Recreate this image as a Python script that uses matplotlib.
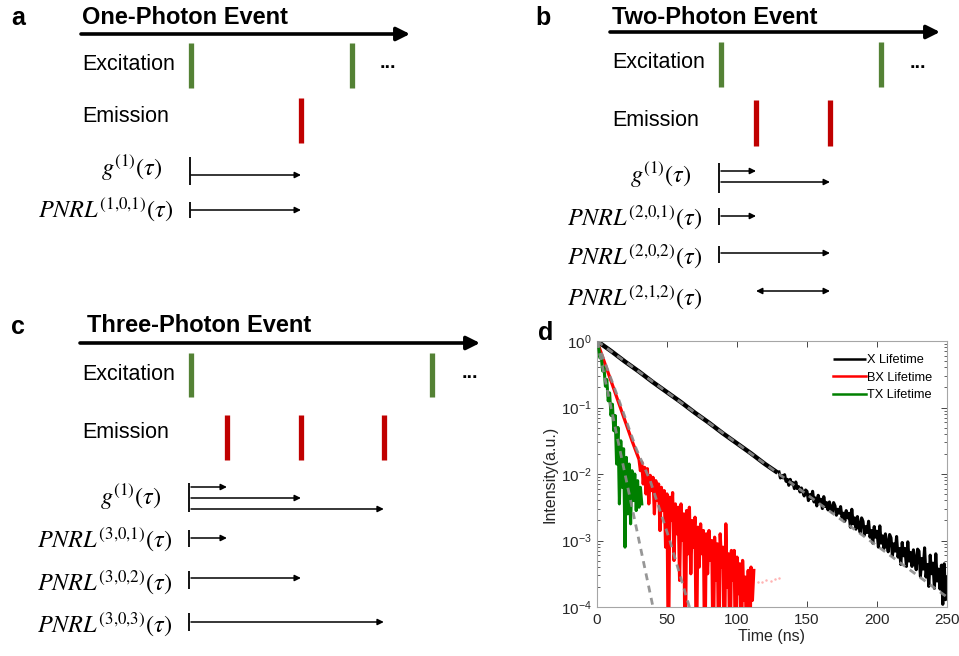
import numpy as np
import matplotlib.pyplot as plt
from matplotlib.ticker import LogLocator, NullLocator, NullFormatter

plt.rcParams["font.family"] = ["Liberation Sans", "DejaVu Sans"]
plt.rcParams["mathtext.fontset"] = "stix"

# ---------------- schematic data (times in units of the laser period) ----------------
excitation_times = [0.0, 1.0]
emission_a = [0.683]
emission_b = [0.219, 0.681]
emission_c = [0.149, 0.456, 0.800]

titles = ["One-Photon Event", "Two-Photon Event", "Three-Photon Event"]
letters = ["a", "b", "c"]

# correlation rows: label, list of (from, to) photon index (0 = excitation, k = k-th emission)
rows_a = [(r"$g^{(1)}(\tau)$", [(0, 1)]),
          (r"$PNRL^{(1{,}0{,}1)}(\tau)$", [(0, 1)])]
rows_b = [(r"$g^{(1)}(\tau)$", [(0, 1), (0, 2)]),
          (r"$PNRL^{(2{,}0{,}1)}(\tau)$", [(0, 1)]),
          (r"$PNRL^{(2{,}0{,}2)}(\tau)$", [(0, 2)]),
          (r"$PNRL^{(2{,}1{,}2)}(\tau)$", [(1, 2)])]
rows_c = [(r"$g^{(1)}(\tau)$", [(0, 1), (0, 2), (0, 3)]),
          (r"$PNRL^{(3{,}0{,}1)}(\tau)$", [(0, 1)]),
          (r"$PNRL^{(3{,}0{,}2)}(\tau)$", [(0, 2)]),
          (r"$PNRL^{(3{,}0{,}3)}(\tau)$", [(0, 3)])]

# ---------------- decay data (log10 of normalised intensity) ----------------
x_t_early = [0, 10, 20, 30, 40, 50, 60, 70, 80, 90, 100, 110, 120, 129]
x_log_early = [0.0, -0.15, -0.31, -0.46, -0.62, -0.77, -0.92, -1.08, -1.23, -1.39,
               -1.54, -1.69, -1.85, -1.98]
x_t_noisy = np.arange(130, 251, 1)
x_log_noisy = [
    -1.97, -2.06, -2.02, -2.06, -2.01, -2.11, -2.08, -2.17, -2.08, -2.15,
    -2.13, -2.22, -2.12, -2.22, -2.19, -2.27, -2.21, -2.27, -2.33, -2.24,
    -2.26, -2.40, -2.31, -2.37, -2.26, -2.42, -2.36, -2.48, -2.32, -2.42,
    -2.38, -2.52, -2.34, -2.49, -2.43, -2.54, -2.42, -2.50, -2.58, -2.43,
    -2.48, -2.62, -2.53, -2.59, -2.49, -2.65, -2.59, -2.71, -2.55, -2.66,
    -2.59, -2.80, -2.53, -2.75, -2.66, -2.83, -2.64, -2.77, -2.88, -2.66,
    -2.71, -2.92, -2.79, -2.88, -2.71, -2.95, -2.85, -3.04, -2.79, -2.95,
    -2.86, -3.10, -2.78, -3.04, -2.93, -3.12, -2.90, -3.04, -3.17, -2.91,
    -2.96, -3.23, -3.05, -3.16, -2.94, -3.25, -3.12, -3.36, -3.03, -3.23,
    -3.12, -3.39, -3.02, -3.31, -3.18, -3.39, -3.14, -3.29, -3.44, -3.13,
    -3.16, -3.54, -3.27, -3.43, -3.11, -3.55, -3.36, -3.69, -3.22, -3.50,
    -3.34, -3.72, -3.20, -3.61, -3.43, -3.73, -3.37, -3.96, -3.35, -3.89,
    -3.55]

bx_t_early = [0, 5, 10, 15, 20, 25, 30]
bx_log_early = [0.0, -0.30, -0.60, -0.90, -1.20, -1.50, -1.78]
bx_t_noisy = np.arange(31, 113, 1)
bx_log_noisy = [-1.95, -1.82, -2.15, -1.90, -2.30, -1.92, -2.45, -2.02, -2.25, -2.05,
                -2.60, -2.10, -2.40, -2.15, -2.85, -2.20, -2.55, -2.25, -3.10, -2.30,
                -5.00, -2.35, -2.70, -2.28, -3.30, -2.45, -2.90, -2.50, -3.60, -2.45,
                -3.00, -2.60, -5.00, -2.55, -3.20, -2.50, -3.50, -2.70, -3.10, -2.65,
                -5.00, -2.80, -3.40, -2.75, -3.20, -2.85, -5.00, -2.90, -3.50, -2.85,
                -3.30, -3.00, -5.00, -2.95, -3.60, -3.05, -5.00, -2.90, -3.40, -3.10,
                -5.00, -2.75, -3.70, -3.20, -5.00, -3.15, -3.60, -3.15, -5.00, -3.25,
                -3.80, -3.35, -5.00, -3.30, -3.90, -3.55, -5.00, -3.45, -5.00, -3.40,
                -3.90, -3.45]
bx_t_tail = [115, 118, 121, 124, 127, 130]
bx_log_tail = [-3.62, -3.63, -3.60, -3.61, -3.58, -3.57]

tx_t = np.arange(0, 33, 1)
tx_log = [0.0, -0.05, -0.25, -0.22, -0.45, -0.40, -0.68, -0.58, -0.90, -0.78,
          -1.12, -0.95, -1.35, -1.12, -1.85, -1.30, -2.45, -1.50, -2.20, -1.62,
          -3.10, -1.75, -2.60, -1.85, -2.75, -1.95, -2.40, -2.00, -2.55, -2.10,
          -2.50, -2.20, -2.45]

# fitted decays (gray dashed)
x_fit_t = [0, 250]
x_fit_log = [0.0, -3.85]
bx_fit_t = [0, 15, 28, 38, 52, 66, 70]
bx_fit_log = [0.0, -0.85, -1.62, -2.10, -3.00, -4.00, -4.30]
tx_fit_t = [0, 41, 43]
tx_fit_log = [0.0, -4.10, -4.30]

# ---------------- figure ----------------
W, H = 959, 656
fig = plt.figure(figsize=(W / 100, H / 100), dpi=100)
canvas = fig.add_axes([0, 0, 1, 1])
canvas.set_xlim(0, W)
canvas.set_ylim(H, 0)
canvas.axis("off")

GREEN = "#548235"
RED = "#c00000"

layouts = [
    dict(letter=(18, 18), title=(82, 18), axis=(81, 410, 34), label_x=82,
         exc_y=(43, 88), exc_text=65, em_y=(98, 143), em_text=117,
         t0=191, period=161, dots=(388, 64), bracket_x=190,
         rows=[dict(ly=168, by=(157, 185), ay=[175]),
               dict(ly=210, by=(202, 218), ay=[210])]),
    dict(letter=(543, 18), title=(612, 17), axis=(610, 940, 32), label_x=612,
         exc_y=(42, 87), exc_text=63, em_y=(100, 146), em_text=120,
         t0=721, period=160, dots=(918, 63), bracket_x=719,
         rows=[dict(ly=175, by=(163, 193), ay=[171, 182]),
               dict(ly=218, by=(208, 225), ay=[216]),
               dict(ly=257, by=(246, 263), ay=[253]),
               dict(ly=298, by=None, ay=[291])]),
    dict(letter=(18, 327), title=(87, 325), axis=(80, 480, 343), label_x=82,
         exc_y=(353, 397), exc_text=375, em_y=(415, 460), em_text=433,
         t0=191, period=241, dots=(470, 374), bracket_x=189,
         rows=[dict(ly=497, by=(483, 512), ay=[487, 498, 509]),
               dict(ly=540, by=(530, 547), ay=[538]),
               dict(ly=583, by=(571, 589), ay=[578]),
               dict(ly=625, by=(613, 631), ay=[622])]),
]

for lay, title, letter, emissions, rows in zip(
        layouts, titles, letters, [emission_a, emission_b, emission_c],
        [rows_a, rows_b, rows_c]):
    canvas.text(*lay["letter"], letter, fontsize=18, fontweight="bold",
                ha="center", va="center")
    canvas.text(*lay["title"], title, fontsize=17, fontweight="bold",
                ha="left", va="center")
    x0, x1, y = lay["axis"]
    canvas.annotate("", xy=(x1, y), xytext=(x0, y),
                    arrowprops=dict(arrowstyle="-|>", lw=2.6, color="black",
                                    mutation_scale=20, shrinkA=0, shrinkB=0))
    canvas.text(lay["label_x"], lay["exc_text"], "Excitation", fontsize=15.5,
                ha="left", va="center")
    canvas.text(lay["label_x"], lay["em_text"], "Emission", fontsize=15.5,
                ha="left", va="center")
    canvas.text(*lay["dots"], "...", fontsize=14, fontweight="bold",
                ha="center", va="center")

    def tx(t, lay=lay):
        return lay["t0"] + t * lay["period"]

    exc_x = [tx(t) for t in excitation_times]
    em_x = [tx(t) for t in emissions]
    canvas.vlines(exc_x, *lay["exc_y"], color=GREEN, lw=3.8)
    canvas.vlines(em_x, *lay["em_y"], color=RED, lw=3.8)

    photon_x = [exc_x[0]] + em_x
    for (label, pairs), rl in zip(rows, lay["rows"]):
        is_g = label.startswith("$g")
        off = 27 if is_g else 17
        canvas.text(lay["bracket_x"] - off, rl["ly"], label, fontsize=17.5,
                    ha="right", va="center")
        if rl["by"] is not None:
            canvas.vlines(lay["bracket_x"], *rl["by"], color="black", lw=1.3)
        for (i, j), ay in zip(pairs, rl["ay"]):
            style = "-|>" if i == 0 else "<|-|>"
            canvas.annotate("", xy=(photon_x[j], ay), xytext=(photon_x[i], ay),
                            arrowprops=dict(arrowstyle=style, lw=1.1, color="black",
                                            mutation_scale=9, shrinkA=0, shrinkB=0))

# ---------------- panel d ----------------
ax = fig.add_axes([597 / W, 1 - 607 / H, 350 / W, 266 / H])
ax.plot(x_t_early, 10 ** np.array(x_log_early), color="black", lw=3.2,
        label="X Lifetime", zorder=2, solid_capstyle="butt")
ax.plot(x_t_noisy, 10 ** np.array(x_log_noisy), color="black", lw=2.2, zorder=2)
ax.plot(np.concatenate([bx_t_early, bx_t_noisy]),
        10 ** np.array(bx_log_early + bx_log_noisy), color="#ff0000", lw=2.3,
        label="BX Lifetime", zorder=3)
ax.scatter(bx_t_tail, 10 ** np.array(bx_log_tail), s=0.6, color="#ffb3b3",
           zorder=3)
ax.plot(tx_t, 10 ** np.array(tx_log), color="#008000", lw=2.2,
        label="TX Lifetime", zorder=4)
for ft, fl in [(x_fit_t, x_fit_log), (bx_fit_t, bx_fit_log), (tx_fit_t, tx_fit_log)]:
    ax.plot(ft, 10 ** np.array(fl), color="#8c8c8c", lw=2.0, ls=(0, (2.5, 2)),
            alpha=0.9, zorder=5)

ax.set_yscale("log")
ax.set_xlim(0, 250)
ax.set_ylim(1e-4, 1)
ax.set_xticks([0, 50, 100, 150, 200, 250])
ax.yaxis.set_major_locator(LogLocator(base=10, numticks=10))
ax.yaxis.set_minor_locator(LogLocator(base=10, subs=np.arange(2, 10), numticks=10))
ax.yaxis.set_minor_formatter(NullFormatter())
ax.xaxis.set_minor_locator(NullLocator())
ax.tick_params(which="both", direction="in", top=True, right=True,
               colors="#262626", labelsize=11, pad=4)
ax.tick_params(which="major", length=4, width=0.6)
ax.tick_params(which="minor", length=2, width=0.5)
for s in ax.spines.values():
    s.set_color("#a6a6a6")
    s.set_linewidth(0.8)
ax.set_xlabel("Time (ns)", fontsize=11.5, color="#262626", labelpad=2)
ax.set_ylabel("Intensity(a.u.)", fontsize=11.5, color="#262626", labelpad=2)
leg = ax.legend(loc="upper right", bbox_to_anchor=(0.98, 0.98), frameon=False,
                fontsize=9.2, handlelength=2.6, handletextpad=0.1,
                labelspacing=0.45, borderaxespad=0.2)
for line in leg.get_lines():
    line.set_linewidth(1.8)

canvas.text(546, 333, "d", fontsize=18, fontweight="bold", ha="center", va="center")

fig.savefig("out.png", dpi=100)
